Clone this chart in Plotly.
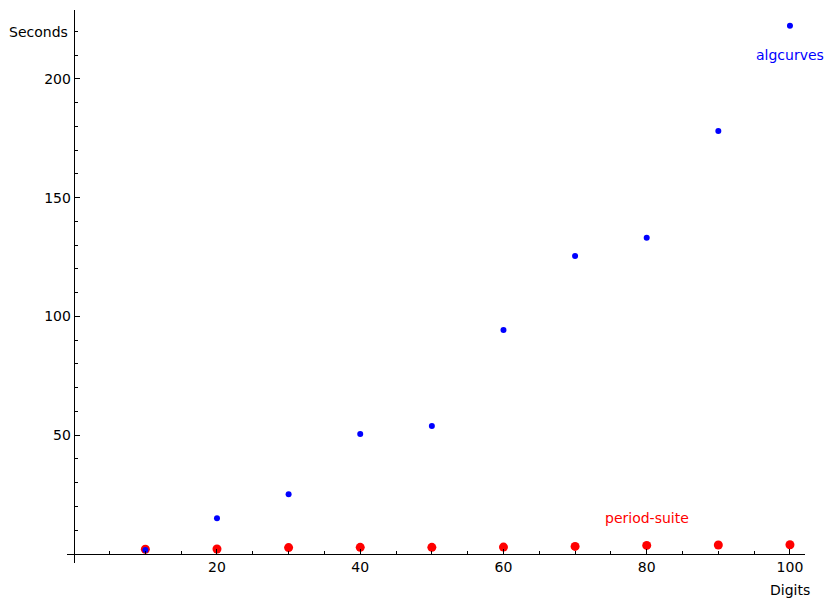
"""Timing comparison: algcurves vs period-suite, by number of digits."""

import plotly.graph_objects as go

digits = [10, 20, 30, 40, 50, 60, 70, 80, 90, 100]
algcurves_sec = [1.7, 15.0, 25.1, 50.5, 53.9, 94.3, 125.5, 133.1, 178.1, 222.4]
period_suite_sec = [2.0, 2.1, 2.7, 2.8, 2.8, 2.9, 3.2, 3.6, 3.8, 3.9]

x_ticks = [20, 40, 60, 80, 100]
x_minor = [5, 10, 15, 25, 30, 35, 45, 50, 55, 65, 70, 75, 85, 90, 95]
y_ticks = [50, 100, 150, 200]
y_minor = [10, 20, 30, 40, 60, 70, 80, 90, 110, 120, 130, 140, 160, 170, 180, 190, 210, 220]

X_RANGE = [-0.94, 102.1]
Y_RANGE = [-3.8, 229.05]
FONT = "DejaVu Sans"

fig = go.Figure()
fig.add_trace(go.Scatter(
    x=digits, y=period_suite_sec, mode="markers",
    marker=dict(color="#ff0000", size=9), cliponaxis=False,
))
fig.add_trace(go.Scatter(
    x=digits, y=algcurves_sec, mode="markers",
    marker=dict(color="#0000ff", size=6), cliponaxis=False,
))

# axes cross at the origin, like a Sage plot
x_pos = (0 - Y_RANGE[0]) / (Y_RANGE[1] - Y_RANGE[0])
y_pos = (0 - X_RANGE[0]) / (X_RANGE[1] - X_RANGE[0])

# the page body keeps an 8px margin, so the figure is 8px smaller
fig.update_layout(
    width=826, height=599,
    margin=dict(l=59, r=29, t=2, b=44),
    paper_bgcolor="white", plot_bgcolor="white",
    showlegend=False,
    font=dict(family=FONT, size=14, color="black"),
    xaxis=dict(
        range=X_RANGE, anchor="free", position=x_pos,
        showline=True, linecolor="black", linewidth=1,
        showgrid=False, zeroline=False,
        tickvals=x_ticks, ticks="inside", ticklen=5, tickcolor="black",
        minor=dict(tickvals=x_minor, ticks="inside", ticklen=3, tickcolor="black"),
        tickfont=dict(size=14),
    ),
    yaxis=dict(
        range=Y_RANGE, anchor="free", position=y_pos,
        showline=True, linecolor="black", linewidth=1,
        showgrid=False, zeroline=False,
        tickvals=y_ticks, ticks="inside", ticklen=5, tickcolor="black",
        minor=dict(tickvals=y_minor, ticks="inside", ticklen=3, tickcolor="black"),
        tickfont=dict(size=14),
    ),
)

fig.add_annotation(x=100, y=210, text="algcurves", showarrow=False,
                   font=dict(color="#0000ff", size=14))
fig.add_annotation(x=80, y=15, text="period-suite", showarrow=False,
                   font=dict(color="#ff0000", size=14))
fig.add_annotation(x=0, y=219.8, text="Seconds", showarrow=False,
                   xanchor="right", xshift=-4, font=dict(size=14))
# below the y range, so placed in paper units
fig.add_annotation(x=100, xref="x", y=-0.049, yref="paper", yanchor="middle",
                   text="Digits", showarrow=False, font=dict(size=14))

fig.write_html("out.html")
